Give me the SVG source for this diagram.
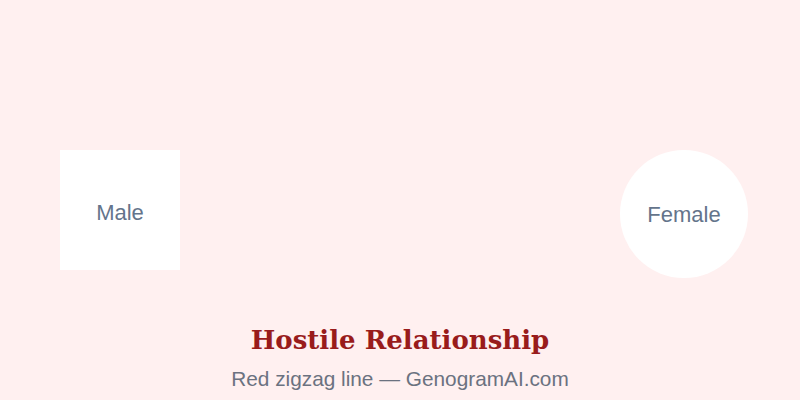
<svg xmlns="http://www.w3.org/2000/svg" width="800" height="400" viewBox="0 0 800 400">
<style>
.node{fill:#ffffff}
.label{font-family:"Liberation Sans",Arial,sans-serif;font-size:22px;fill:#64748b;text-anchor:middle}
.title{font-family:"DejaVu Serif",Georgia,serif;font-weight:bold;font-size:26px;fill:#991b1b;text-anchor:middle}
.sub{font-family:"Liberation Sans",Arial,sans-serif;font-size:20.8px;fill:#6b7280;text-anchor:middle}
</style>
<rect width="800" height="400" fill="#fff0f0"/>
<g id="connectors"></g>
<g id="male">
<rect class="node" x="60" y="150" width="120" height="120"/>
<text class="label" x="120" y="220">Male</text>
</g>
<g id="female">
<circle class="node" cx="684" cy="214" r="64"/>
<text class="label" x="684" y="222">Female</text>
</g>
<text class="title" x="400" y="349">Hostile Relationship</text>
<text class="sub" x="400" y="386">Red zigzag line — GenogramAI.com</text>
</svg>
